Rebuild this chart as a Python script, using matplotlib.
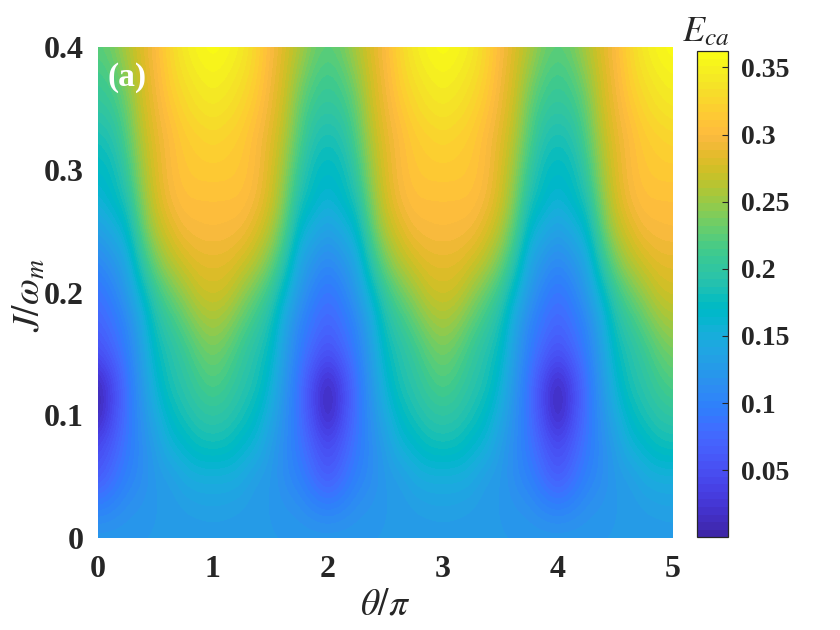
import matplotlib
matplotlib.use("Agg")
import matplotlib.pyplot as plt
import numpy as np
from matplotlib.colors import ListedColormap

plt.rcParams["font.family"] = ["Liberation Serif", "DejaVu Serif"]
plt.rcParams["mathtext.fontset"] = "stix"

# theta/pi in steps of 0.125, J/omega_m in steps of 0.025
theta = np.arange(41) * 0.125
J = np.arange(17) * 0.025

E_J000 = [.125, .125, .125, .125, .125, .125, .125, .125, .125, .125, .125, .125, .125, .125, .125, .125,
          .125, .125, .125, .125, .125, .125, .125, .125, .125, .125, .125, .125, .125, .125, .125, .125,
          .125, .125, .125, .125, .125, .125, .125, .125, .125]
E_J025 = [.100, .105, .115, .120, .125, .125, .130, .133, .135, .133, .130, .125, .125, .120, .115, .105,
          .100, .105, .115, .120, .125, .125, .130, .133, .135, .133, .130, .125, .125, .120, .115, .105,
          .100, .105, .115, .120, .125, .125, .130, .133, .135]
E_J050 = [.060, .080, .100, .110, .125, .130, .145, .150, .150, .150, .145, .130, .125, .110, .100, .080,
          .060, .080, .100, .110, .125, .130, .145, .150, .150, .150, .145, .130, .125, .110, .100, .080,
          .060, .080, .100, .110, .125, .130, .145, .150, .150]
E_J075 = [.045, .065, .090, .110, .130, .155, .165, .178, .180, .178, .165, .155, .130, .110, .090, .065,
          .045, .065, .090, .110, .130, .155, .165, .178, .180, .178, .165, .155, .130, .110, .090, .065,
          .045, .065, .090, .110, .130, .155, .165, .178, .180]
E_J100 = [.005, .045, .085, .115, .145, .170, .185, .195, .200, .195, .185, .170, .145, .115, .085, .045,
          .005, .045, .085, .115, .145, .170, .185, .195, .200, .195, .185, .170, .145, .115, .085, .045,
          .005, .045, .085, .115, .145, .170, .185, .195, .200]
E_J125 = [.005, .040, .085, .120, .160, .185, .195, .210, .220, .210, .195, .185, .160, .120, .085, .040,
          .005, .040, .085, .120, .160, .185, .195, .210, .220, .210, .195, .185, .160, .120, .085, .040,
          .005, .040, .085, .120, .160, .185, .195, .210, .220]
E_J150 = [.050, .070, .095, .130, .172, .190, .205, .225, .235, .225, .205, .190, .172, .130, .095, .070,
          .050, .070, .095, .130, .172, .190, .205, .225, .235, .225, .205, .190, .172, .130, .095, .070,
          .050, .070, .095, .130, .172, .190, .205, .225, .235]
E_J175 = [.070, .085, .105, .140, .185, .205, .225, .245, .255, .245, .225, .205, .185, .140, .105, .085,
          .070, .085, .105, .140, .185, .205, .225, .245, .255, .245, .225, .205, .185, .140, .105, .085,
          .070, .085, .105, .140, .185, .205, .225, .245, .255]
E_J200 = [.085, .100, .125, .165, .205, .230, .250, .270, .275, .270, .250, .230, .205, .165, .125, .100,
          .085, .100, .125, .165, .205, .230, .250, .270, .275, .270, .250, .230, .205, .165, .125, .100,
          .085, .100, .125, .165, .205, .230, .250, .270, .275]
E_J225 = [.105, .120, .140, .195, .235, .260, .275, .285, .285, .285, .275, .260, .235, .195, .140, .120,
          .105, .120, .140, .195, .235, .260, .275, .285, .285, .285, .275, .260, .235, .195, .140, .120,
          .105, .120, .140, .195, .235, .260, .275, .285, .285]
E_J250 = [.130, .145, .165, .220, .260, .280, .295, .298, .300, .298, .295, .280, .260, .220, .165, .145,
          .130, .145, .165, .220, .260, .280, .295, .298, .300, .298, .295, .280, .260, .220, .165, .145,
          .130, .145, .165, .220, .260, .280, .295, .298, .300]
E_J275 = [.155, .170, .185, .240, .275, .295, .305, .305, .305, .305, .305, .295, .275, .240, .185, .170,
          .155, .170, .185, .240, .275, .295, .305, .305, .305, .305, .305, .295, .275, .240, .185, .170,
          .155, .170, .185, .240, .275, .295, .305, .305, .305]
E_J300 = [.170, .175, .205, .250, .280, .300, .310, .315, .315, .315, .310, .300, .280, .250, .205, .175,
          .170, .175, .205, .250, .280, .300, .310, .315, .315, .315, .310, .300, .280, .250, .205, .175,
          .170, .175, .205, .250, .280, .300, .310, .315, .315]
E_J325 = [.180, .190, .220, .260, .285, .300, .315, .320, .325, .320, .315, .300, .285, .260, .220, .190,
          .180, .190, .220, .260, .285, .300, .315, .320, .325, .320, .315, .300, .285, .260, .220, .190,
          .180, .190, .220, .260, .285, .300, .315, .320, .325]
E_J350 = [.200, .205, .230, .270, .290, .310, .325, .335, .340, .335, .325, .310, .290, .270, .230, .205,
          .200, .205, .230, .270, .290, .310, .325, .335, .340, .335, .325, .310, .290, .270, .230, .205,
          .200, .205, .230, .270, .290, .310, .325, .335, .340]
E_J375 = [.210, .220, .245, .275, .295, .320, .335, .345, .350, .345, .335, .320, .295, .275, .245, .220,
          .210, .220, .245, .275, .295, .320, .335, .345, .350, .345, .335, .320, .295, .275, .245, .220,
          .210, .220, .245, .275, .295, .320, .335, .345, .350]
E_J400 = [.225, .235, .260, .280, .300, .325, .345, .355, .362, .355, .345, .325, .300, .280, .260, .235,
          .225, .235, .260, .280, .300, .325, .345, .355, .362, .355, .345, .325, .300, .280, .260, .235,
          .225, .235, .260, .280, .300, .325, .345, .355, .362]

E_rows = [E_J000, E_J025, E_J050, E_J075, E_J100, E_J125, E_J150, E_J175, E_J200,
          E_J225, E_J250, E_J275, E_J300, E_J325, E_J350, E_J375, E_J400]

theta_ticks = [0, 1, 2, 3, 4, 5]
J_ticks = [0, 0.1, 0.2, 0.3, 0.4]
J_ticklabels = ["0", "0.1", "0.2", "0.3", "0.4"]
cbar_ticks = [0.05, 0.1, 0.15, 0.2, 0.25, 0.3, 0.35]
cbar_ticklabels = ["0.05", "0.1", "0.15", "0.2", "0.25", "0.3", "0.35"]

parula = ListedColormap([
    (0.2422, 0.1504, 0.6603), (0.2504, 0.1650, 0.7076), (0.2578, 0.1818, 0.7511), (0.2647, 0.1978, 0.7952),
    (0.2706, 0.2147, 0.8364), (0.2751, 0.2342, 0.8710), (0.2783, 0.2559, 0.8991), (0.2803, 0.2782, 0.9221),
    (0.2813, 0.3006, 0.9414), (0.2810, 0.3228, 0.9579), (0.2795, 0.3447, 0.9717), (0.2760, 0.3667, 0.9829),
    (0.2699, 0.3892, 0.9906), (0.2602, 0.4123, 0.9952), (0.2440, 0.4358, 0.9988), (0.2206, 0.4603, 0.9973),
    (0.1963, 0.4847, 0.9892), (0.1834, 0.5074, 0.9798), (0.1786, 0.5289, 0.9682), (0.1764, 0.5499, 0.9520),
    (0.1687, 0.5703, 0.9359), (0.1540, 0.5902, 0.9218), (0.1460, 0.6091, 0.9079), (0.1380, 0.6276, 0.8973),
    (0.1248, 0.6459, 0.8883), (0.1113, 0.6635, 0.8763), (0.0952, 0.6798, 0.8598), (0.0689, 0.6948, 0.8394),
    (0.0297, 0.7082, 0.8163), (0.0036, 0.7203, 0.7917), (0.0067, 0.7312, 0.7660), (0.0433, 0.7411, 0.7394),
    (0.0964, 0.7500, 0.7120), (0.1408, 0.7584, 0.6842), (0.1717, 0.7670, 0.6554), (0.1938, 0.7758, 0.6251),
    (0.2161, 0.7843, 0.5923), (0.2470, 0.7918, 0.5567), (0.2906, 0.7973, 0.5188), (0.3406, 0.8008, 0.4789),
    (0.3909, 0.8029, 0.4354), (0.4456, 0.8024, 0.3909), (0.5044, 0.7993, 0.3480), (0.5616, 0.7942, 0.3045),
    (0.6174, 0.7876, 0.2612), (0.6720, 0.7793, 0.2227), (0.7242, 0.7698, 0.1910), (0.7738, 0.7598, 0.1646),
    (0.8203, 0.7498, 0.1535), (0.8634, 0.7406, 0.1596), (0.9035, 0.7330, 0.1774), (0.9393, 0.7288, 0.2100),
    (0.9728, 0.7298, 0.2394), (0.9956, 0.7434, 0.2371), (0.9970, 0.7659, 0.2199), (0.9952, 0.7893, 0.2028),
    (0.9892, 0.8136, 0.1885), (0.9786, 0.8386, 0.1766), (0.9676, 0.8639, 0.1643), (0.9610, 0.8890, 0.1537),
    (0.9597, 0.9135, 0.1423), (0.9628, 0.9373, 0.1265), (0.9691, 0.9606, 0.1064), (0.9769, 0.9839, 0.0805),
])

W, H = 840, 630
INK = "#262626"


def px_axes(fig, left, top, right, bottom):
    return fig.add_axes([left / W, 1 - bottom / H, (right - left) / W, (bottom - top) / H])


fig = plt.figure(figsize=(W / 100, H / 100), dpi=100)
ax = px_axes(fig, 98, 47, 672.5, 538)
dx = theta[1] - theta[0]
dy = J[1] - J[0]
im = ax.imshow(np.array(E_rows), origin="lower", aspect="auto", cmap=parula, vmin=0.0001, vmax=0.362,
               interpolation="bicubic",
               extent=(theta[0] - dx / 2, theta[-1] + dx / 2, J[0] - dy / 2, J[-1] + dy / 2))
ax.set_xlim(0, 5)
ax.set_ylim(0, 0.4)
ax.set_xticks(theta_ticks)
ax.set_yticks(J_ticks)
ax.set_yticklabels(J_ticklabels)
ax.tick_params(length=0, labelsize=23, labelcolor=INK)
ax.tick_params(axis="x", pad=12)
ax.tick_params(axis="y", pad=10)
for label in ax.get_xticklabels() + ax.get_yticklabels():
    label.set_fontweight("bold")
for spine in ax.spines.values():
    spine.set_visible(False)
ax.set_xlabel(r"$\theta/\pi$", fontsize=27, labelpad=3, color=INK)
ax.set_ylabel(r"$J/\omega_m$", fontsize=27, color=INK)
ax.yaxis.set_label_coords(-0.088, 0.495)
ax.text(0.08, 0.3755, "(a)", color="white", fontsize=24, fontweight="bold", ha="left", va="center")

cax = px_axes(fig, 697, 51.3, 728, 537.3)
cbar = fig.colorbar(im, cax=cax)
cbar.set_ticks(cbar_ticks)
cbar.set_ticklabels(cbar_ticklabels)
cbar.ax.tick_params(direction="in", length=4, width=0.8, labelsize=20, pad=9, labelcolor=INK, color=INK)
for label in cbar.ax.get_yticklabels():
    label.set_fontweight("bold")
cbar.outline.set_edgecolor(INK)
cbar.outline.set_linewidth(0.9)
fig.text(706 / W, 1 - 33 / H, r"$E_{ca}$", fontsize=26, ha="center", va="center", color=INK)

fig.savefig("out.png", dpi=100)
